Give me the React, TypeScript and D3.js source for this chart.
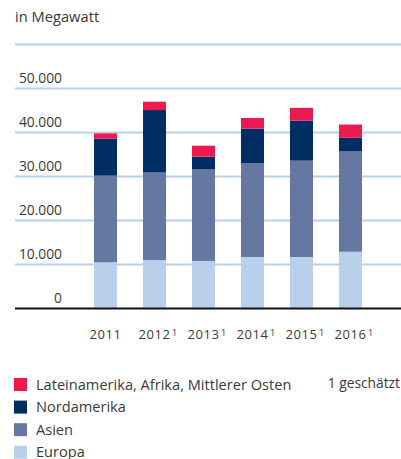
import React from "react";
import * as d3 from "d3";

const years = ["2011", "2012", "2013", "2014", "2015", "2016"];
const estimated = [false, true, true, true, true, true];
const seriesNames = ["Europa", "Asien", "Nordamerika", "Lateinamerika, Afrika, Mittlerer Osten"];
const europa = [10500, 11000, 10800, 11700, 11700, 12900];
const asien = [19700, 19900, 20800, 21300, 21900, 22800];
const nordamerika = [8400, 14200, 2900, 7900, 9100, 3100];
const latam = [1200, 1900, 2500, 2400, 2900, 3000];
const yTicks = [0, 10000, 20000, 30000, 40000, 50000];
const colors = ["#b8d0ea", "#6677a1", "#002d62", "#ec1a50"];
const legendOrder = [3, 2, 1, 0];

const W = 401, H = 459;
const font = "'Open Sans', 'DejaVu Sans', sans-serif";
const textColor = "#3a3a3a";

export default function App() {
  const y = d3.scaleLinear().domain([0, 50000]).range([308.5, 88.5]);
  const x = d3.scaleBand().domain(years).range([69.5, 386.5]).paddingInner(0.53).paddingOuter(0.5);
  const rows = years.map((yr, i) => ({ year: yr, Europa: europa[i], Asien: asien[i], Nordamerika: nordamerika[i], [seriesNames[3]]: latam[i] }));
  const stack = d3.stack<any>().keys(seriesNames)(rows);
  const fmt = (v: number) => d3.format(",")(v).replace(/,/g, ".");

  return (
    <svg width={W} height={H} style={{ position: "absolute", left: 0, top: 0, background: "#fff" }}>
      <text x={15} y={22} fontFamily={font} fontSize={14.7} fill={textColor}>in Megawatt</text>
      <line x1={15} x2={W} y1={y(60000)} y2={y(60000)} stroke="#b8d0ea" strokeWidth={2} />
      {yTicks.filter(t => t > 0).map(t => (
        <line key={t} x1={15} x2={W} y1={y(t)} y2={y(t)} stroke="#b8d0ea" strokeWidth={2} />
      ))}
      {yTicks.map(t => (
        <text key={"l" + t} x={62} y={y(t) - 6} textAnchor="end" fontFamily={font} fontSize={13.8} fill={textColor}>{fmt(t)}</text>
      ))}
      {stack.map((s, si) => (
        <g key={si} fill={colors[si]}>
          {s.map((d, i) => (
            <rect key={i} x={x(years[i])} width={x.bandwidth()} y={y(d[1])} height={y(d[0]) - y(d[1])} />
          ))}
        </g>
      ))}
      <line x1={15} x2={W} y1={y(0)} y2={y(0)} stroke="#111" strokeWidth={2} />
      {years.map((yr, i) => {
        const cx = (x(yr) as number) + x.bandwidth() / 2;
        return (
          <g key={yr}>
            <text x={cx} y={339} textAnchor="middle" fontFamily={font} fontSize={13} fill={textColor} letterSpacing={0.6}>{yr}</text>
            {estimated[i] && <text x={cx + 17.5} y={336} fontFamily={font} fontSize={9} fill={textColor}>1</text>}
          </g>
        );
      })}
      {legendOrder.map((si, k) => (
        <g key={si} transform={`translate(14, ${378 + k * 22.6})`}>
          <rect width={13} height={13} fill={colors[si]} />
          <text x={22} y={11.5} fontFamily={font} fontSize={14.6} fill={textColor}>{seriesNames[si]}</text>
        </g>
      ))}
      <text x={400} y={388} textAnchor="end" fontFamily={font} fontSize={13.8} fill={textColor}>1 geschätzt</text>
    </svg>
  );
}
